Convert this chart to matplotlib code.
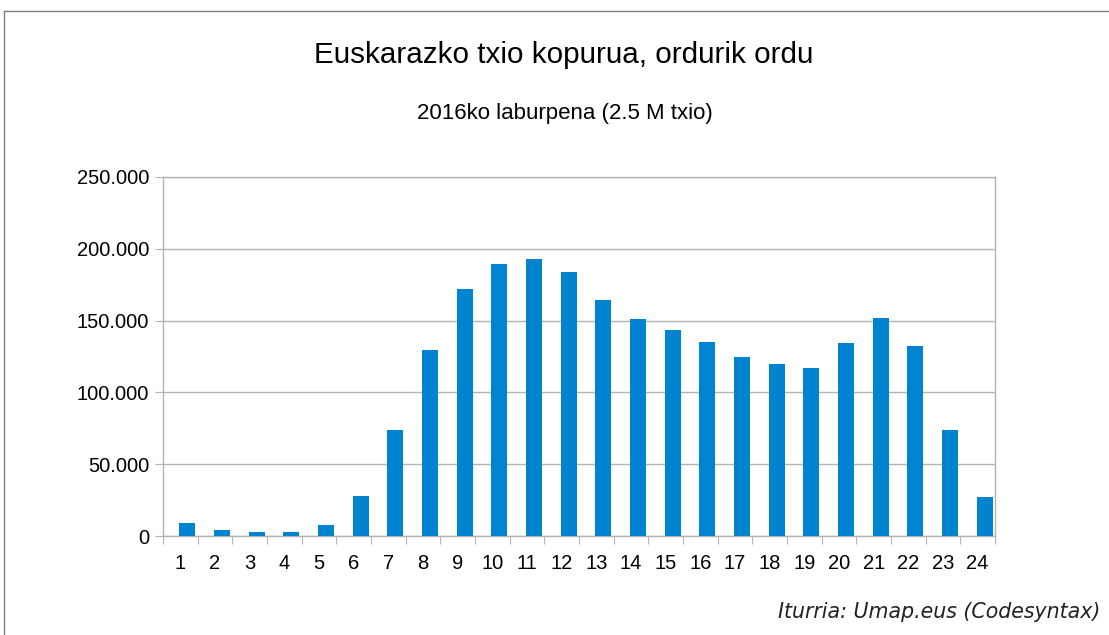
import numpy as np
import matplotlib.pyplot as plt
from matplotlib.lines import Line2D
from matplotlib.ticker import FuncFormatter, MultipleLocator

# ----------------- Data -----------------
hours = list(range(1, 25))
tweets = [8800, 4000, 2800, 2800, 7400, 27900, 73800, 129500, 172000, 189400,
          192900, 183800, 164300, 151100, 143500, 135100, 124700, 119800,
          117000, 134400, 151800, 132300, 73800, 27000]

title = "Euskarazko txio kopurua, ordurik ordu"
subtitle = "2016ko laburpena (2.5 M txio)"
source = "Iturria: Umap.eus (Codesyntax)"

plt.rcParams['font.family'] = ['Liberation Sans', 'DejaVu Sans']

fig = plt.figure(figsize=(11.09, 6.35), dpi=100)
ax = fig.add_axes([163 / 1109, 1 - 536 / 635, 832 / 1109, 359 / 635])

x = np.arange(len(hours))
ax.bar(x + 0.2, tweets, width=0.46, color='#0084d1', zorder=3)

ax.set_xlim(-0.5, len(hours) - 0.5)
ax.set_ylim(0, 250000)
ax.yaxis.set_major_locator(MultipleLocator(50000))
ax.yaxis.set_major_formatter(FuncFormatter(lambda v, p: f"{int(v):,}".replace(",", ".")))

# category boundaries as ticks, labels at centres
ax.set_xticks(np.arange(-0.5, len(hours)), minor=False)
ax.set_xticklabels([])
ax.set_xticks(x, minor=True)
ax.set_xticklabels([str(h) for h in hours], minor=True)
ax.tick_params(axis='x', which='major', length=6, color='#b3b3b3', direction='out')
ax.tick_params(axis='x', which='minor', length=0, labelsize=14.5, pad=13)
ax.tick_params(axis='y', length=6, color='#b3b3b3', labelsize=14.5, pad=4)

ax.grid(axis='y', color='#b3b3b3', linewidth=1, zorder=0)
for s in ax.spines.values():
    s.set_color('#b3b3b3')
    s.set_linewidth(1)

fig.text(564 / 1109, 1 - 55 / 635, title, ha='center', va='center', fontsize=21.3)
fig.text(565 / 1109, 1 - 113 / 635, subtitle, ha='center', va='center', fontsize=16)
fig.text(1100 / 1109, 1 - 612 / 635, source, ha='right', va='center', fontsize=14.8,
         style='italic', family=['DejaVu Sans'], color='#222222')

# screenshot frame lines (top and left)
fig.add_artist(Line2D([4 / 1109, 1], [1 - 11 / 635] * 2, color='#7f7f7f', linewidth=1))
fig.add_artist(Line2D([4 / 1109] * 2, [0, 1 - 11 / 635], color='#7f7f7f', linewidth=1))

fig.savefig("out.png", dpi=100)
